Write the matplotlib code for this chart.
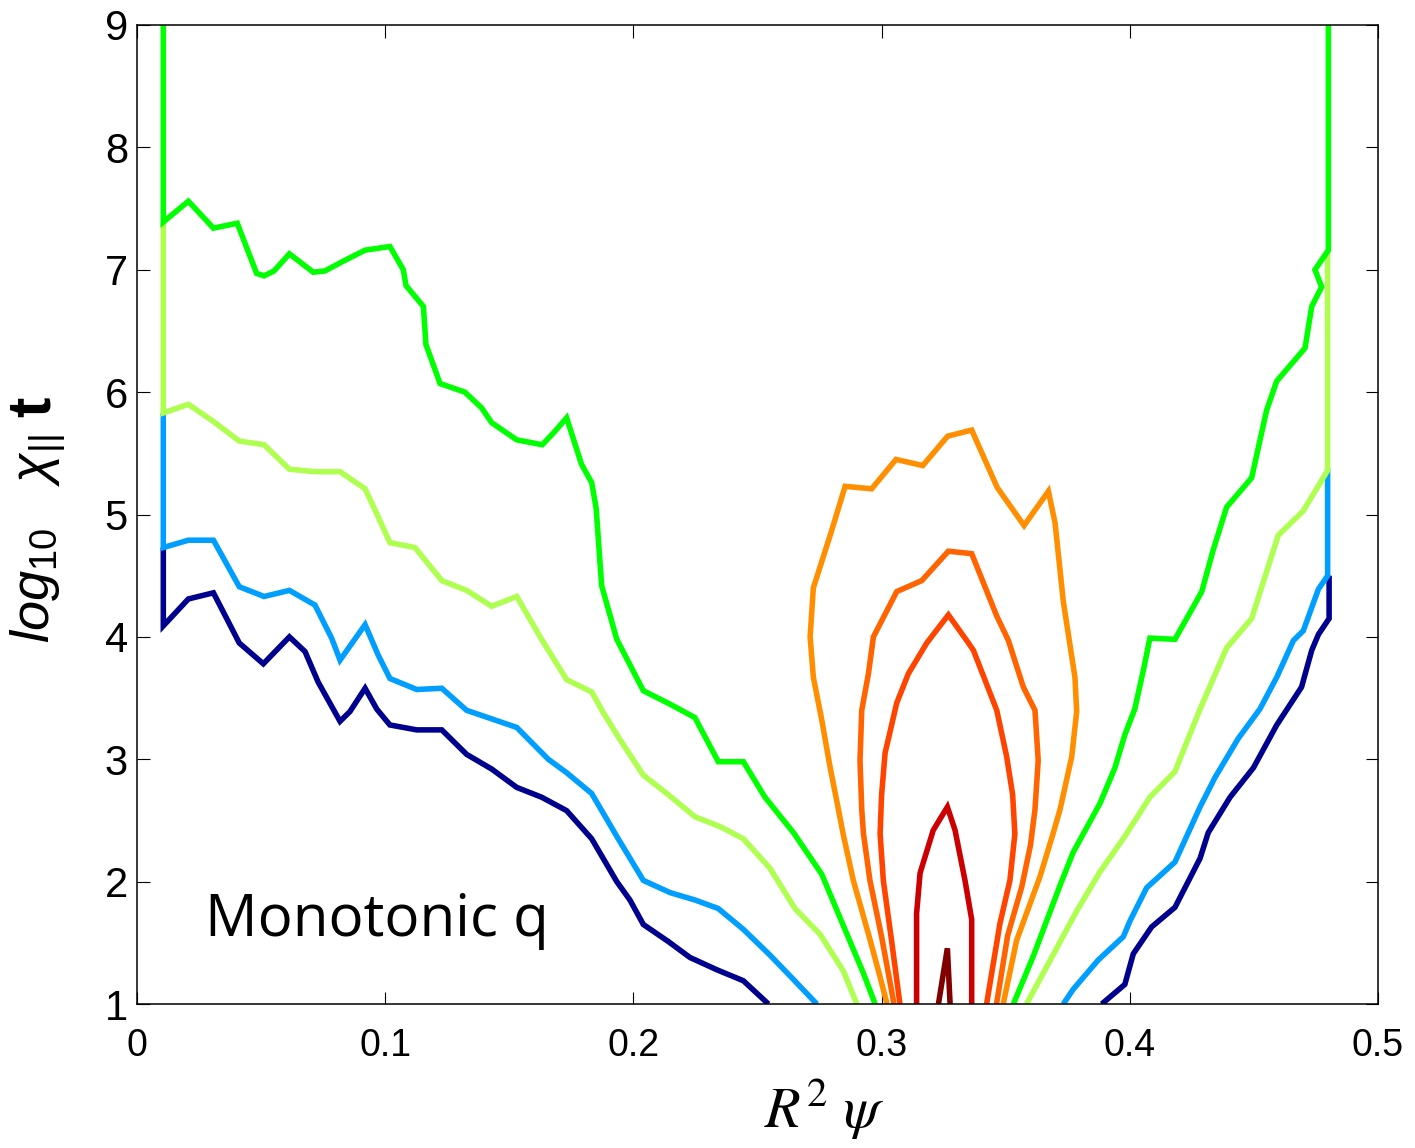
import matplotlib
matplotlib.use("Agg")
import matplotlib.pyplot as plt

# contour levels (left branch / right branch / closed central loops)
navy_left_x = [0.0106, 0.0106, 0.0207, 0.0308, 0.0412, 0.0509, 0.0614, 0.0677, 0.0730, 0.0818,
               0.0858, 0.0919, 0.0966, 0.1019, 0.1127, 0.1228, 0.1328, 0.1429, 0.1530, 0.1630,
               0.1731, 0.1832, 0.1933, 0.1986, 0.2040, 0.2141, 0.2228, 0.2336, 0.2443, 0.2544]
navy_left_y = [4.73, 4.09, 4.31, 4.36, 3.95, 3.78, 4.00, 3.88, 3.63, 3.31,
               3.39, 3.58, 3.41, 3.28, 3.24, 3.24, 3.04, 2.92, 2.77, 2.69,
               2.58, 2.35, 2.00, 1.85, 1.65, 1.51, 1.38, 1.28, 1.19, 1.00]
navy_right_x = [0.3887, 0.3980, 0.4014, 0.4088, 0.4182, 0.4283, 0.4316, 0.4404, 0.4498, 0.4592,
                0.4692, 0.4733, 0.4760, 0.4803, 0.4803]
navy_right_y = [1.00, 1.16, 1.41, 1.63, 1.79, 2.19, 2.40, 2.69, 2.93, 3.28,
                3.59, 3.89, 4.02, 4.15, 4.50]

blue_left_x = [0.0106, 0.0106, 0.0207, 0.0308, 0.0412, 0.0512, 0.0614, 0.0717, 0.0784, 0.0818,
               0.0919, 0.0972, 0.1019, 0.1127, 0.1228, 0.1328, 0.1429, 0.1530, 0.1657, 0.1731,
               0.1832, 0.1933, 0.2040, 0.2148, 0.2248, 0.2342, 0.2443, 0.2550, 0.2645, 0.2739]
blue_left_y = [5.83, 4.73, 4.79, 4.79, 4.41, 4.33, 4.38, 4.26, 3.99, 3.81,
               4.10, 3.85, 3.66, 3.57, 3.58, 3.40, 3.33, 3.26, 3.00, 2.89,
               2.72, 2.37, 2.01, 1.91, 1.85, 1.78, 1.61, 1.40, 1.20, 1.00]
blue_right_x = [0.3732, 0.3772, 0.3873, 0.3974, 0.4001, 0.4068, 0.4182, 0.4283, 0.4343, 0.4437,
                0.4524, 0.4592, 0.4659, 0.4699, 0.4760, 0.4797, 0.4797]
blue_right_y = [1.00, 1.12, 1.36, 1.55, 1.68, 1.95, 2.16, 2.61, 2.85, 3.17,
                3.41, 3.67, 3.97, 4.05, 4.39, 4.50, 5.38]

lime_left_x = [0.0106, 0.0106, 0.0207, 0.0308, 0.0412, 0.0512, 0.0614, 0.0717, 0.0818, 0.0919,
               0.0972, 0.1019, 0.1120, 0.1228, 0.1328, 0.1429, 0.1530, 0.1630, 0.1731, 0.1832,
               0.1879, 0.1946, 0.2040, 0.2141, 0.2248, 0.2349, 0.2443, 0.2550, 0.2651, 0.2752,
               0.2846, 0.2900]
lime_left_y = [7.39, 5.83, 5.90, 5.76, 5.60, 5.57, 5.37, 5.35, 5.35, 5.21,
               4.98, 4.77, 4.73, 4.46, 4.38, 4.25, 4.33, 3.98, 3.65, 3.55,
               3.38, 3.16, 2.87, 2.71, 2.53, 2.45, 2.35, 2.11, 1.78, 1.57,
               1.27, 1.00]
lime_right_x = [0.3584, 0.3672, 0.3786, 0.3880, 0.3980, 0.4081, 0.4182, 0.4283, 0.4390, 0.4491,
                0.4598, 0.4699, 0.4797, 0.4797]
lime_right_y = [1.00, 1.33, 1.76, 2.08, 2.37, 2.69, 2.90, 3.41, 3.91, 4.15,
                4.83, 5.03, 5.36, 7.14]

green_left_x = [0.0106, 0.0106, 0.0207, 0.0308, 0.0404, 0.0482, 0.0512, 0.0552, 0.0614, 0.0710,
                0.0757, 0.0831, 0.0919, 0.1019, 0.1073, 0.1084, 0.1154, 0.1164, 0.1221, 0.1321,
                0.1389, 0.1429, 0.1530, 0.1633, 0.1684, 0.1731, 0.1791, 0.1832, 0.1850, 0.1872,
                0.1933, 0.2040, 0.2148, 0.2248, 0.2342, 0.2443, 0.2530, 0.2645, 0.2759, 0.2846,
                0.2927, 0.2974]
green_left_y = [9.20, 7.39, 7.56, 7.34, 7.38, 6.97, 6.95, 6.99, 7.13, 6.98,
                6.99, 7.07, 7.16, 7.19, 7.00, 6.87, 6.70, 6.39, 6.07, 6.00,
                5.87, 5.75, 5.61, 5.57, 5.68, 5.79, 5.41, 5.26, 5.05, 4.42,
                3.98, 3.56, 3.45, 3.34, 2.98, 2.98, 2.69, 2.40, 2.06, 1.64,
                1.25, 1.00]
green_right_x = [0.3531, 0.3611, 0.3719, 0.3772, 0.3880, 0.3940, 0.3980, 0.4020, 0.4055, 0.4081,
                 0.4182, 0.4290, 0.4336, 0.4390, 0.4491, 0.4551, 0.4592, 0.4706, 0.4733, 0.4773,
                 0.4746, 0.4800, 0.4800]
green_right_y = [1.00, 1.39, 1.97, 2.24, 2.64, 2.93, 3.20, 3.41, 3.73, 3.99,
                 3.98, 4.37, 4.71, 5.06, 5.30, 5.85, 6.09, 6.36, 6.70, 6.86,
                 7.00, 7.16, 9.20]

orange_x = [0.3022, 0.2990, 0.2950, 0.2886, 0.2846, 0.2826, 0.2792, 0.2759, 0.2725, 0.2712,
            0.2725, 0.2799, 0.2853, 0.2960, 0.3058, 0.3166, 0.3266, 0.3363, 0.3466, 0.3574,
            0.3672, 0.3699, 0.3732, 0.3779, 0.3786, 0.3766, 0.3719, 0.3692, 0.3638, 0.3544,
            0.3490]
orange_y = [1.00, 1.25, 1.55, 2.01, 2.38, 2.59, 2.94, 3.32, 3.67, 4.00,
            4.40, 4.87, 5.23, 5.21, 5.45, 5.40, 5.64, 5.69, 5.22, 4.91,
            5.19, 4.93, 4.29, 3.67, 3.39, 3.02, 2.59, 2.40, 2.04, 1.52,
            1.00]

orange2_x = [0.3050, 0.3000, 0.2953, 0.2927, 0.2920, 0.2913, 0.2920, 0.2947, 0.2967, 0.3061,
             0.3162, 0.3269, 0.3363, 0.3464, 0.3511, 0.3571, 0.3618, 0.3631, 0.3618, 0.3600,
             0.3565, 0.3508, 0.3463]
orange2_y = [1.00, 1.55, 2.01, 2.39, 2.59, 2.99, 3.40, 3.70, 4.00, 4.37,
             4.46, 4.70, 4.68, 4.17, 3.97, 3.59, 3.40, 2.99, 2.59, 2.30,
             1.96, 1.56, 1.00]

redorange_x = [0.3074, 0.3040, 0.3007, 0.2994, 0.3000, 0.3014, 0.3061, 0.3108, 0.3182, 0.3269,
               0.3343, 0.3370, 0.3464, 0.3504, 0.3528, 0.3537, 0.3517, 0.3477, 0.3423]
redorange_y = [1.00, 1.52, 2.01, 2.39, 2.71, 3.05, 3.46, 3.70, 3.95, 4.18,
               3.97, 3.89, 3.40, 3.02, 2.71, 2.39, 2.01, 1.66, 1.00]

red_x = [0.3141, 0.3141, 0.3155, 0.3208, 0.3265, 0.3296, 0.3336, 0.3363, 0.3363]
red_y = [1.00, 1.74, 2.07, 2.42, 2.61, 2.42, 2.01, 1.69, 1.00]

darkred_x = [0.3229, 0.3265, 0.3276]
darkred_y = [1.00, 1.455, 1.00]

curves = [
    (navy_left_x, navy_left_y, '#00008f'),
    (navy_right_x, navy_right_y, '#00008f'),
    (blue_left_x, blue_left_y, '#009fff'),
    (blue_right_x, blue_right_y, '#009fff'),
    (lime_left_x, lime_left_y, '#aeff50'),
    (lime_right_x, lime_right_y, '#aeff50'),
    (green_left_x, green_left_y, '#00ff00'),
    (green_right_x, green_right_y, '#00ff00'),
    (orange_x, orange_y, '#ff8f00'),
    (orange2_x, orange2_y, '#ff6400'),
    (redorange_x, redorange_y, '#ff4400'),
    (red_x, red_y, '#cc0000'),
    (darkred_x, darkred_y, '#800000'),
]

plt.rcParams['mathtext.fontset'] = 'custom'
plt.rcParams['mathtext.rm'] = 'Liberation Sans'
plt.rcParams['mathtext.it'] = 'Liberation Sans:italic'
plt.rcParams['mathtext.bf'] = 'Liberation Sans:bold'

W, H = 1415, 1148
fig = plt.figure(figsize=(W / 100, H / 100), dpi=100)
ax = fig.add_axes([137 / W, 1 - 1004 / H, (1378 - 137) / W, (1004 - 25) / H])

for xs, ys, col in curves:
    ax.plot(xs, ys, color=col, lw=4.0, solid_joinstyle='miter', solid_capstyle='butt')

ax.set_xlim(0, 0.5)
ax.set_ylim(1, 9)
ax.set_xticks([0, 0.1, 0.2, 0.3, 0.4, 0.5])
ax.set_xticklabels(['0', '0.1', '0.2', '0.3', '0.4', '0.5'])
ax.set_yticks(range(1, 10))

for lab in ax.get_xticklabels():
    lab.set_fontfamily('Liberation Sans')
    lab.set_fontsize(27)
for lab in ax.get_yticklabels():
    lab.set_fontfamily('Liberation Sans')
    lab.set_fontsize(30)

ax.tick_params(direction='in', length=9, width=0.8, top=True, right=True)
ax.tick_params(axis='x', pad=17)
ax.tick_params(axis='y', pad=6.5)
for s in ax.spines.values():
    s.set_linewidth(1.1)
    s.set_zorder(5)

ax.text(0.0275, 1.555, 'Monotonic q', fontsize=42, family='Open Sans', va='baseline', ha='left')

fig.text(824 / W, 1 - 1128 / H, r'$R^2\ \psi$', fontsize=42, math_fontfamily='stix',
         ha='center', va='baseline')
fig.text(50 / W, 1 - 643 / H, r'$log_{10}\quad\chi_{||}$', fontsize=39,
         rotation=90, rotation_mode='anchor', ha='left', va='baseline')
fig.text(50 / W, 1 - 417 / H, 't', fontsize=44, family='Liberation Sans', weight='bold',
         rotation=90, rotation_mode='anchor', ha='left', va='baseline')

fig.savefig('out.png', dpi=100)
